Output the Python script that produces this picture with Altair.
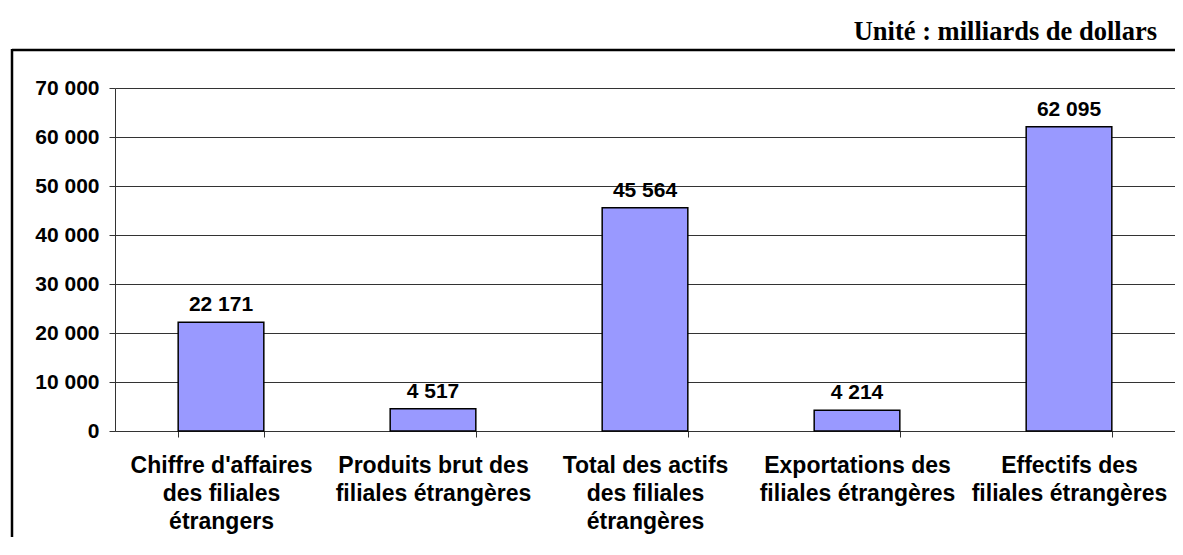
import altair as alt
import pandas as pd

categories = [
    "Chiffre d'affaires|des filiales|étrangers",
    "Produits brut des|filiales étrangères",
    "Total des actifs|des filiales|étrangères",
    "Exportations des|filiales étrangères",
    "Effectifs des|filiales étrangères",
]
values = [22171, 4517, 45564, 4214, 62095]
y_ticks = [0, 10000, 20000, 30000, 40000, 50000, 60000, 70000]
title_text = "Unité : milliards de dollars"

df = pd.DataFrame({"cat": categories, "val": values})

W, H = 1060, 343
BOTTOM = 106
FONT = "Liberation Sans"
GRID = "#333333"

x_enc = alt.X(
    "cat:N",
    sort=categories,
    scale=alt.Scale(paddingInner=0.596, paddingOuter=0.298),
    axis=alt.Axis(
        title=None,
        labelAngle=0,
        labelExpr="split(datum.label, '|')",
        tickBand="extent",
        grid=False,
        labelFont=FONT,
        labelFontSize=23,
        labelFontWeight="bold",
        labelColor="black",
        labelLineHeight=28,
        labelLimit=500,
        labelPadding=17,
        tickSize=6,
        tickColor=GRID,
        domainColor=GRID,
        labelBaseline="top",
    ),
)
y_enc = alt.Y(
    "val:Q",
    scale=alt.Scale(domain=[0, 70000], nice=False),
    axis=alt.Axis(
        title=None,
        values=y_ticks,
        labelExpr="replace(format(datum.value, ','), ',', ' ')",
        labelFont=FONT,
        labelFontSize=21,
        labelFontWeight="bold",
        labelColor="black",
        labelPadding=10,
        tickSize=6,
        tickColor=GRID,
        domainColor=GRID,
        gridColor=GRID,
        gridOpacity=1,
    ),
)

base = alt.Chart(df)

bars = base.mark_bar(color="#9999FF", stroke="black", strokeWidth=1.5).encode(x=x_enc, y=y_enc)

labels = base.transform_calculate(
    lbl="replace(format(datum.val, ','), ',', ' ')"
).mark_text(
    baseline="bottom", dy=-7, font=FONT, fontSize=21, fontWeight="bold", color="black"
).encode(x=alt.X("cat:N", sort=categories), y="val:Q", text="lbl:N")

one = alt.Data(values=[{"a": 1}])
frame_top = alt.Chart(one).mark_rule(color="black", strokeWidth=2.5).encode(
    x=alt.value(-103), x2=alt.value(W), y=alt.value(-38)
)
frame_left = alt.Chart(one).mark_rule(color="black", strokeWidth=2.5).encode(
    x=alt.value(-103), y=alt.value(-39), y2=alt.value(H + BOTTOM)
)

title = alt.Chart(alt.Data(values=[{"t": title_text}])).mark_text(
    align="right", baseline="alphabetic", font="Liberation Serif", fontSize=26.5,
    fontWeight="bold", color="black"
).encode(x=alt.value(1157 - 115), y=alt.value(40 - 88), text="t:N")

chart = alt.layer(bars, labels, frame_top, frame_left, title).properties(
    width=W, height=H,
    autosize=alt.AutoSizeParams(type="none"),
    padding={"left": 107, "top": 80, "right": 0, "bottom": BOTTOM},
).configure_view(stroke="transparent", strokeWidth=0)

chart.save("out.html", embed_options={"renderer": "svg", "actions": False})
